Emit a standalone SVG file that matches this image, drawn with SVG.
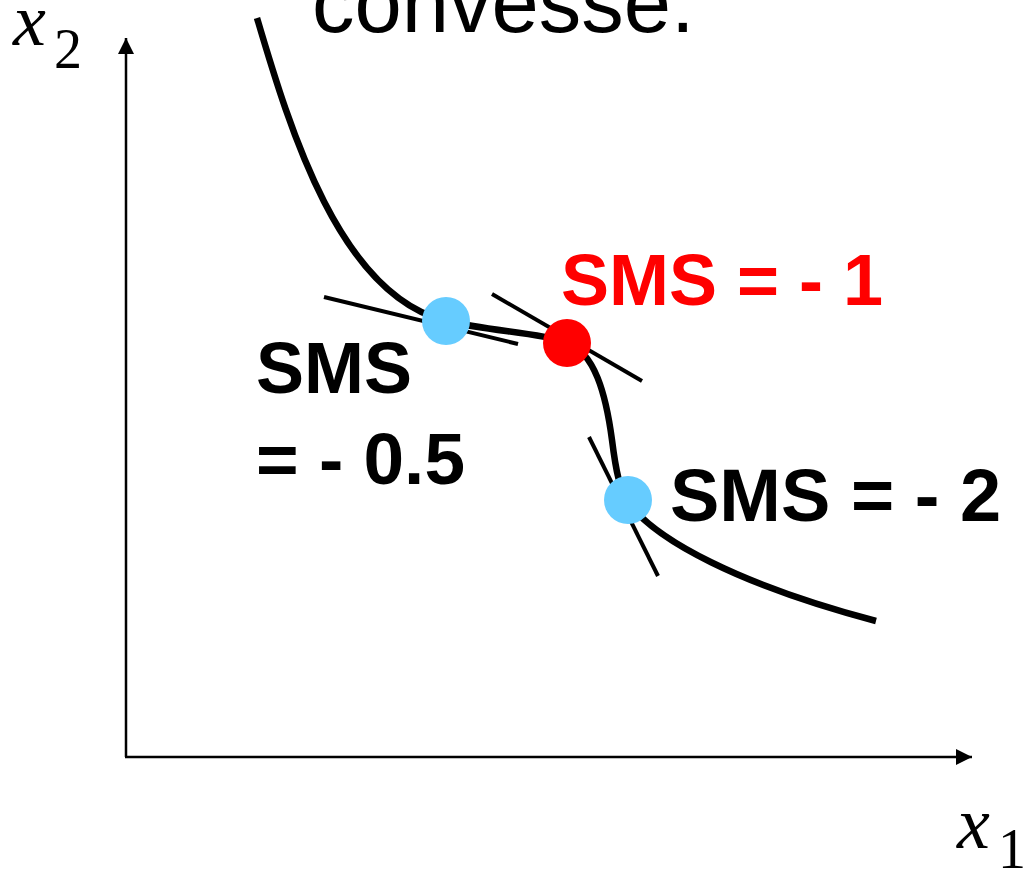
<svg xmlns="http://www.w3.org/2000/svg" width="1023" height="871" viewBox="0 0 1023 871">
<style>
.axis{stroke:#000;stroke-width:2.5;fill:none}
.curve{stroke:#000;stroke-width:6.5;fill:none;stroke-linecap:butt}
.tan{stroke:#000;stroke-width:4;fill:none}
.lbl{font-family:"Liberation Sans",Arial,sans-serif;font-weight:bold;font-size:72px}
.var{font-family:"Liberation Serif","Times New Roman",serif;font-style:italic;font-size:74px}
.sub{font-family:"Liberation Serif","Times New Roman",serif;font-size:56px}
</style>
<defs>
<marker id="arr" markerWidth="16" markerHeight="16" refX="16" refY="8" orient="auto" markerUnits="userSpaceOnUse">
<path d="M0,0 L16,8 L0,16 Z" fill="#000"/>
</marker>
</defs>
<rect width="1023" height="871" fill="#fff"/>
<text x="312" y="32" font-family="Liberation Sans,Arial,sans-serif" font-size="85" fill="#000">convesse.</text>
<g id="axes">
<path class="axis" d="M126,757 L126,38" marker-end="url(#arr)"/>
<path class="axis" d="M125,757 L972,757" marker-end="url(#arr)"/>
<text class="var" x="13" y="45">x</text><text class="sub" x="54" y="68">2</text>
<text class="var" x="957" y="848">x</text><text class="sub" x="998" y="868">1</text>
</g>
<g id="connectors">
<path class="curve" d="M257,18 C290,130 340,295 446,321 C490,331 540,333 566,342 C595,352 606,395 612,440 C616,472 620,490 628,502 C655,540 740,585 876,621"/>
<line class="tan" x1="324" y1="297" x2="518" y2="344"/>
<line class="tan" x1="492" y1="294" x2="642" y2="381"/>
<line class="tan" x1="589" y1="437" x2="658" y2="576"/>
</g>
<g id="p1"><circle cx="446" cy="321" r="24" fill="#66ccff"/></g>
<g id="p2"><circle cx="567" cy="343" r="24" fill="#ff0000"/></g>
<g id="p3"><circle cx="628" cy="500" r="24" fill="#66ccff"/></g>
<g id="l1"><text class="lbl" x="256" y="393" font-size="73">SMS</text><text class="lbl" x="256" y="484" style="font-size:73px">= - 0.5</text></g>
<g id="l2"><text class="lbl" x="561" y="305" fill="#ff0000">SMS = - 1</text></g>
<g id="l3"><text class="lbl" x="670" y="521" style="font-size:74px">SMS = - 2</text></g>
</svg>
